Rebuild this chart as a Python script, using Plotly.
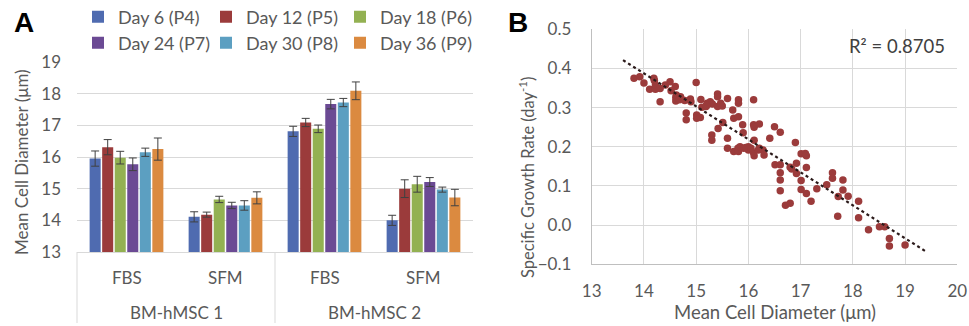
import numpy as np
import plotly.graph_objects as go

# ---------------- Panel A data ----------------
donors = ["BM-hMSC 1", "BM-hMSC 1", "BM-hMSC 2", "BM-hMSC 2"]
media = ["FBS", "SFM", "FBS", "SFM"]
series_names = ["Day 6 (P4)", "Day 12 (P5)", "Day 18 (P6)",
                "Day 24 (P7)", "Day 30 (P8)", "Day 36 (P9)"]
series_colors = ["#4F6BB0", "#9B3B3B", "#93B152", "#6B4A94", "#5C9FC1", "#DB8A40"]

day6 = [15.95, 14.11, 16.81, 14.00]
day12 = [16.31, 14.18, 17.09, 15.00]
day18 = [15.98, 14.66, 16.89, 15.14]
day24 = [15.77, 14.47, 17.67, 15.21]
day30 = [16.15, 14.47, 17.72, 14.97]
day36 = [16.25, 14.71, 18.09, 14.72]

err6 = [0.24, 0.16, 0.16, 0.16]
err12 = [0.24, 0.08, 0.13, 0.28]
err18 = [0.20, 0.10, 0.12, 0.25]
err24 = [0.20, 0.10, 0.15, 0.14]
err30 = [0.13, 0.15, 0.13, 0.08]
err36 = [0.35, 0.19, 0.28, 0.26]

bar_values = [day6, day12, day18, day24, day30, day36]
bar_errors = [err6, err12, err18, err24, err30, err36]

y_ticks_a = [13, 14, 15, 16, 17, 18, 19]

# ---------------- Panel B data ----------------
diameter = [13.81, 13.92, 14.00, 14.11, 14.19, 14.20, 14.22, 14.22, 14.31, 14.31,
            14.41, 14.50, 14.52, 14.60, 14.61, 14.61, 14.70, 14.71, 14.78, 14.81,
            14.81, 14.89, 14.90, 15.00, 15.01, 15.01, 15.08, 15.09, 15.11, 15.19,
            15.21, 15.27, 15.31, 15.30, 15.30, 15.41, 15.41, 15.41, 15.42, 15.47,
            15.50, 15.51, 15.60, 15.60, 15.60, 15.70, 15.72, 15.72, 15.80, 15.81,
            15.81, 15.81, 15.81, 15.84, 15.89, 15.90, 15.91, 16.00, 16.00, 16.10,
            16.10, 16.11, 16.11, 16.10, 16.11, 16.19, 16.21, 16.21, 16.28, 16.30,
            16.41, 16.50, 16.51, 16.61, 16.61, 16.61, 16.61, 16.61, 16.71, 16.80,
            16.80, 16.83, 16.90, 16.92, 16.92, 17.01, 17.01, 17.01, 17.09, 17.11,
            17.11, 17.11, 17.20, 17.31, 17.50, 17.61, 17.61, 17.71, 17.72, 17.81,
            17.81, 17.91, 18.11, 18.11, 18.30, 18.51, 18.61, 18.70, 18.70, 19.00,
            14.62, 14.68, 15.20, 15.95, 16.05]
growth = [0.375, 0.379, 0.363, 0.347, 0.375, 0.369, 0.347, 0.358, 0.349, 0.315,
          0.358, 0.366, 0.343, 0.354, 0.326, 0.317, 0.328, 0.323, 0.318, 0.286,
          0.269, 0.322, 0.315, 0.364, 0.281, 0.273, 0.275, 0.321, 0.301, 0.303,
          0.311, 0.315, 0.309, 0.230, 0.217, 0.335, 0.328, 0.303, 0.247, 0.311,
          0.304, 0.262, 0.323, 0.222, 0.196, 0.294, 0.273, 0.188, 0.196, 0.320,
          0.311, 0.277, 0.188, 0.200, 0.256, 0.236, 0.196, 0.200, 0.192, 0.320,
          0.256, 0.250, 0.217, 0.185, 0.177, 0.192, 0.258, 0.196, 0.192, 0.179,
          0.222, 0.251, 0.154, 0.237, 0.154, 0.134, 0.115, 0.088, 0.051, 0.148,
          0.056, 0.143, 0.211, 0.158, 0.132, 0.114, 0.091, 0.182, 0.183, 0.177,
          0.147, 0.081, 0.061, 0.093, 0.103, 0.134, 0.120, 0.023, 0.073, 0.115,
          0.090, 0.074, 0.061, 0.019, -0.012, -0.004, -0.004, -0.034, -0.053, -0.051,
          0.332, 0.320, 0.306, 0.198, 0.196]
trend_x = [13.6, 19.4]
r_squared = 0.8705

x_ticks_b = [13, 14, 15, 16, 17, 18, 19, 20]
y_ticks_b = [-0.1, 0.0, 0.1, 0.2, 0.3, 0.4, 0.5]

W, H = 969, 326
FONT = "Lato, 'Open Sans', sans-serif"
TXT = "#595959"
GRID = "#D9D9D9"


def px(x):
    return x / W


def py(y):
    return 1 - y / H


XA = [px(77), px(473)]          # panel A x-domain
YA = [py(252), py(62)]          # panel A y-domain

fig = go.Figure()

xcats = [donors, media]
legend_ids = ["legend", "legend2", "legend3", "legend4", "legend5", "legend6"]
for name, col, vals, errs, lg in zip(series_names, series_colors, bar_values, bar_errors, legend_ids):
    fig.add_trace(go.Bar(
        x=xcats, y=vals, name=name, marker_color=col, marker_line_width=0,
        legend=lg,
        error_y=dict(type="data", array=errs, visible=True, color="#404040",
                     thickness=1, width=4),
        xaxis="x", yaxis="y"))

# scatter
fig.add_trace(go.Scatter(x=diameter, y=growth, mode="markers",
                         marker=dict(color="#9B3B3B", size=7.5),
                         showlegend=False, xaxis="x2", yaxis="y2"))
coef = np.polyfit(diameter, growth, 1)
trend_y = list(np.polyval(coef, trend_x))
fig.add_trace(go.Scatter(x=trend_x, y=trend_y, mode="lines",
                         line=dict(color="#2B1A1A", width=2.2, dash="dot"),
                         showlegend=False, xaxis="x2", yaxis="y2"))

# legends: one per entry, laid out in 2 rows x 3 columns like the reference
leg_x = [78, 206, 340, 78, 206, 340]
leg_y = [17, 17, 17, 43, 43, 43]
legends = {}
for lg, lx, ly in zip(legend_ids, leg_x, leg_y):
    legends[lg] = dict(orientation="h", xanchor="left", yanchor="middle",
                       xref="container", yref="container", x=lx / W, y=1 - ly / H,
                       itemwidth=30, font=dict(size=18, color=TXT),
                       bgcolor="rgba(0,0,0,0)")

# two-level category labels and dividers for panel A
n = len(media)
annotations = []
shapes = []
for i, m in enumerate(media):
    cx = XA[0] + (i + 0.5) / n * (XA[1] - XA[0])
    annotations.append(dict(text=m, x=cx, y=py(277), xref="paper", yref="paper",
                            xanchor="center", yanchor="middle", showarrow=False,
                            font=dict(size=17, color=TXT)))
groups = []
for i, d in enumerate(donors):
    if not groups or groups[-1][0] != d:
        groups.append([d, i, i])
    else:
        groups[-1][2] = i
for d, i0, i1 in groups:
    left = XA[0] + i0 / n * (XA[1] - XA[0])
    cx = XA[0] + (i0 + i1 + 1) / 2 / n * (XA[1] - XA[0])
    annotations.append(dict(text=d, x=cx, y=py(312), xref="paper", yref="paper",
                            xanchor="center", yanchor="middle", showarrow=False,
                            font=dict(size=17, color=TXT)))
    shapes.append(dict(type="line", xref="paper", yref="paper", x0=left, x1=left,
                       y0=YA[0], y1=py(323), line=dict(color=GRID, width=1)))

annotations += [
    dict(text="<b>A</b>", x=px(12), y=py(22), xref="paper", yref="paper",
         xanchor="left", yanchor="middle", showarrow=False,
         font=dict(family="Liberation Sans, Arial, sans-serif", size=28, color="black")),
    dict(text="<b>B</b>", x=px(506), y=py(22), xref="paper", yref="paper",
         xanchor="left", yanchor="middle", showarrow=False,
         font=dict(family="Liberation Sans, Arial, sans-serif", size=28, color="black")),
    dict(text=f"R² = {r_squared:.4f}", x=px(947), y=py(46), xref="paper", yref="paper",
         xanchor="right", yanchor="middle", showarrow=False,
         font=dict(size=18.5, color="#404040")),
    dict(text="Mean Cell Diameter (μm)", x=px(21), y=py(162), xref="paper", yref="paper",
         xanchor="center", yanchor="middle", showarrow=False, textangle=-90,
         font=dict(size=17, color=TXT)),
    dict(text="Specific Growth Rate (day<sup>-1</sup>)", x=px(527), y=py(178),
         xref="paper", yref="paper",
         xanchor="center", yanchor="middle", showarrow=False, textangle=-90,
         font=dict(size=16.5, color=TXT)),
    dict(text="Mean Cell Diameter (μm)", x=px(775), y=py(312), xref="paper", yref="paper",
         xanchor="center", yanchor="middle", showarrow=False,
         font=dict(size=18.5, color=TXT)),
]

fig.update_layout(
    width=W, height=H,
    margin=dict(l=0, r=0, t=0, b=0, autoexpand=False),
    paper_bgcolor="white", plot_bgcolor="white",
    font=dict(family=FONT, color=TXT, size=15),
    barmode="group", bargap=0.24, bargroupgap=0.12,
    xaxis=dict(type="multicategory", domain=XA, anchor="y", automargin=False,
               showline=True, linecolor=GRID, linewidth=1, ticks="",
               showgrid=False, showticklabels=False, showdividers=False),
    yaxis=dict(domain=YA, anchor="x", range=[13, 19], automargin=False,
               tickvals=y_ticks_a, gridcolor=GRID, zeroline=False, showline=False,
               tickfont=dict(size=17, color=TXT), ticks="", ticklabelstandoff=15),
    xaxis2=dict(domain=[px(591.7), px(957.3)], anchor="y2", range=[13, 20],
                automargin=False,
                tickvals=x_ticks_b, gridcolor=GRID, zeroline=False,
                showline=True, linecolor="#BFBFBF", ticks="",
                tickfont=dict(size=17, color=TXT), ticklabelstandoff=11),
    yaxis2=dict(domain=[py(264.3), py(29.3)], anchor="x2", range=[-0.1, 0.5],
                automargin=False,
                tickvals=y_ticks_b, tickformat=".1f", gridcolor=GRID, zeroline=False,
                showline=True, linecolor="#BFBFBF", ticks="",
                tickfont=dict(size=17, color=TXT), ticklabelstandoff=16),
    annotations=annotations,
    shapes=shapes,
    **legends,
)

fig.write_html("out.html", config={"displayModeBar": False},
               post_script="document.body.style.margin='0px';")
